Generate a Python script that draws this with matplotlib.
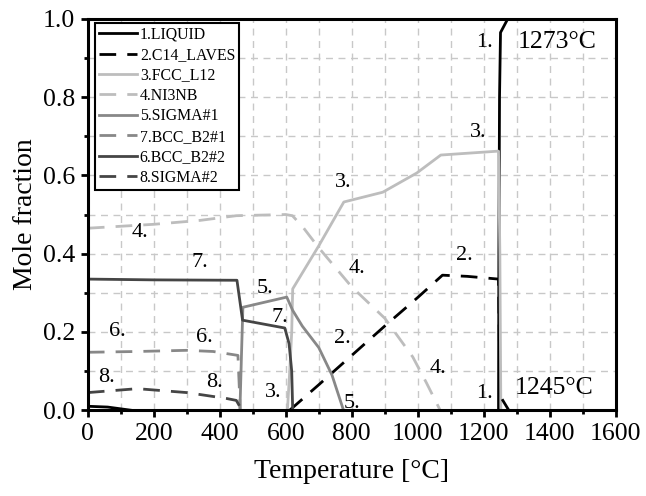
import numpy as np
import matplotlib.pyplot as plt
from matplotlib.ticker import MultipleLocator

plt.rcParams['font.family'] = ['Liberation Serif', 'DejaVu Serif']

# 1. LIQUID
liq_T = [1245, 1246, 1248, 1251, 1273]
liq_y = [0.0, 0.40, 0.80, 0.965, 1.0]
liq2_T = [1258, 1276]
liq2_y = [0.025, 0.0]

# 2. C14_LAVES
lav_T = [612, 700, 800, 900, 1000, 1075, 1150, 1245, 1250]
lav_y = [0.0, 0.065, 0.140, 0.215, 0.288, 0.345, 0.342, 0.335, 0.0]
lav2_T = [0, 60, 130]
lav2_y = [0.01, 0.008, 0.0]

# 3. FCC_L12
fcc_T = [605, 612, 618, 621, 700, 776, 894, 997, 1070, 1245, 1249, 1252]
fcc_y = [0.0, 0.10, 0.20, 0.31, 0.42, 0.532, 0.557, 0.606, 0.652, 0.662, 0.40, 0.0]

# 4. NI3NB
ni3_T = [0, 200, 340, 450, 600, 620, 650, 700, 800, 900, 985, 1027, 1068]
ni3_y = [0.465, 0.475, 0.485, 0.497, 0.50, 0.497, 0.47, 0.415, 0.315, 0.235, 0.136, 0.069, 0.0]

# 5. SIGMA#1
sig1_T = [461, 466, 470, 603, 621, 650, 700, 740, 775]
sig1_y = [0.0, 0.15, 0.263, 0.289, 0.255, 0.215, 0.16, 0.09, 0.0]

# 7. BCC_B2#1
bcc1_T = [0, 150, 300, 380, 455, 462]
bcc1_y = [0.148, 0.150, 0.153, 0.150, 0.140, 0.0]

# 6. BCC_B2#2
bcc2_T = [0, 200, 452, 469, 597, 610, 618, 621]
bcc2_y = [0.335, 0.333, 0.332, 0.23, 0.21, 0.17, 0.10, 0.0]

# 8. SIGMA#2
sig2_T = [0, 150, 300, 420, 450, 467]
sig2_y = [0.045, 0.055, 0.045, 0.03, 0.025, 0.0]

# labels on the curves
lab_txt = ['1.', '3.', '3.', '4.', '4.', '4.', '2.', '2.', '7.', '5.', '7.',
           '6.', '6.', '8.', '8.', '3.', '5.', '1.']
lab_T = [1203, 1182, 773, 158, 815, 1061, 1142, 773, 339, 536, 582,
         88, 354, 58, 385, 561, 800, 1203]
lab_y = [0.94, 0.71, 0.583, 0.455, 0.363, 0.107, 0.396, 0.184, 0.378, 0.312, 0.238,
         0.2, 0.187, 0.084, 0.072, 0.046, 0.018, 0.043]

fig = plt.figure(figsize=(6.46, 4.96), dpi=100)
ax = fig.add_axes([0.136, 0.173, 0.817, 0.789])

light = '#bdbdbd'
mid = '#888888'
dark = '#454545'
dash = (0, (6, 4))
lw = 2.0

ax.plot(liq_T, liq_y, color='black', lw=lw, label='1.LIQUID')
ax.plot(lav_T, lav_y, color='black', lw=lw, linestyle=dash, label='2.C14_LAVES')
ax.plot(fcc_T, fcc_y, color=light, lw=lw, label='3.FCC_L12')
ax.plot(ni3_T, ni3_y, color=light, lw=lw, linestyle=dash, label='4.NI3NB')
ax.plot(sig1_T, sig1_y, color=mid, lw=lw, label='5.SIGMA#1')
ax.plot(bcc1_T, bcc1_y, color=mid, lw=lw, linestyle=dash, label='7.BCC_B2#1')
ax.plot(bcc2_T, bcc2_y, color=dark, lw=lw, label='6.BCC_B2#2')
ax.plot(sig2_T, sig2_y, color=dark, lw=lw, linestyle=dash, label='8.SIGMA#2')
ax.plot(liq2_T, liq2_y, color='black', lw=lw)
ax.plot(lav2_T, lav2_y, color='black', lw=lw)

for t, x, y in zip(lab_txt, lab_T, lab_y):
    ax.text(x, y, t, fontsize=16, ha='center', va='center')
ax.text(1303, 0.94, '1273°C', fontsize=18.5, ha='left', va='center')
ax.text(1294, 0.056, '1245°C', fontsize=18.5, ha='left', va='center')

ax.set_xlim(0, 1600)
ax.set_ylim(0, 1.0)
ax.xaxis.set_major_locator(MultipleLocator(200))
ax.xaxis.set_minor_locator(MultipleLocator(100))
ax.yaxis.set_major_locator(MultipleLocator(0.2))
ax.yaxis.set_minor_locator(MultipleLocator(0.1))
ax.yaxis.set_major_formatter(plt.FormatStrFormatter('%.1f'))
ax.grid(True, which='both', color='#c8c8c8', linestyle=(0, (5, 4)), lw=1.0)
ax.set_axisbelow(True)
for s in ax.spines.values():
    s.set_linewidth(2.2)
ax.tick_params(which='major', direction='out', length=5, width=2, labelsize=18.5, pad=4)
ax.tick_params(which='minor', direction='out', length=3, width=2)

ax.set_xlabel('Temperature [°C]', fontsize=20, labelpad=10)
ax.set_ylabel('Mole fraction', fontsize=20, labelpad=4)

leg = ax.legend(loc='upper left', bbox_to_anchor=(0.013, 0.99), borderaxespad=0,
                fontsize=11.4, frameon=True, fancybox=False,
                edgecolor='black', framealpha=1, handlelength=2.4, handletextpad=0.2,
                labelspacing=0.28, borderpad=0.25)
leg.get_frame().set_linewidth(1.5)

fig.savefig('out.png', dpi=100)
